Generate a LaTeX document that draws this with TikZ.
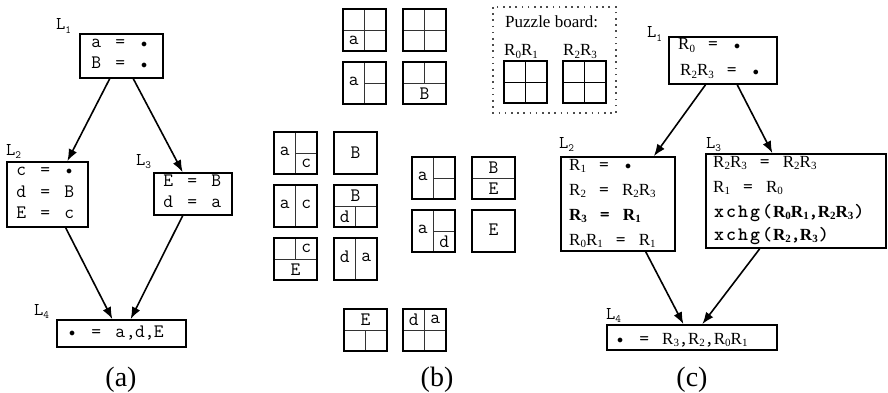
\documentclass[tikz,border=0pt]{standalone}
\usepackage{fontspec}
\newfontfamily\tms{Liberation Serif}
\usetikzlibrary{arrows.meta,calc}
\newlength\cpitch
\setlength\cpitch{12pt}
\newcommand\ccloop[1]{\ifx#1\relax\else\makebox[\cpitch]{#1}\expandafter\ccloop\fi}
\newcommand\cc[1]{\ccloop#1\relax}
\newcommand\bul{\raisebox{0.05ex}{\scalebox{0.7}{$\bullet$}}}
\newcommand\cn{\makebox[9pt]{,}}
\newcommand\cf{\fontsize{19}{22}\selectfont\ttfamily}
\newcommand\cfb{\fontsize{19}{22}\selectfont\ttfamily\fontseries{b}\selectfont}
\newcommand\Rr[1]{{\tms\fontsize{17}{20}\selectfont R\raisebox{-0.3ex}{\fontsize{11}{12}\selectfont #1}}}
\newcommand\Rb[1]{{\tms\bfseries\fontsize{17}{20}\selectfont R\raisebox{-0.3ex}{\fontsize{11}{12}\selectfont #1}}}
\newcommand\Lb[1]{{\fontsize{18}{20}\selectfont\ttfamily L\raisebox{-0.4ex}{\fontsize{11}{12}\selectfont #1}}}
\begin{document}
\begin{tikzpicture}[x=1pt,y=-1pt,
  box/.style={draw, line width=1.7pt, rectangle, inner sep=0pt},
  txt/.style={anchor=base west, inner sep=0pt},
  arr/.style={line width=1.6pt, -{Latex[length=12pt,width=9pt]}},
  capt/.style={anchor=base, inner sep=0pt, font=\tms\fontsize{28}{30}\selectfont},
  tb/.style={line width=1.3pt},
  ti/.style={line width=0.8pt, black!80},
  tl/.style={inner sep=0pt, font=\cf},
  board/.style={line width=1.6pt},
  dotbox/.style={line width=1.4pt, black!70, dash pattern=on 1.6pt off 4.6pt}
]
\useasboundingbox (0,0) rectangle (888,393);

% ---------------- (a) ----------------
\node[box, minimum width=83pt, minimum height=44pt] (a1) at (121.5,56) {};
\node[box, minimum width=81pt, minimum height=65pt] (a2) at (47.5,194.5) {};
\node[box, minimum width=78pt, minimum height=42pt] (a3) at (193,194) {};
\node[box, minimum width=129pt, minimum height=27pt] (a4) at (121.5,333.5) {};

\node[txt] (a1l) at (56,30) {\Lb{1}};
\node[txt] (a2l) at (6,155) {\Lb{2}};
\node[txt] (a3l) at (136,165) {\Lb{3}};
\node[txt] (a4l) at (34,315) {\Lb{4}};

\node[txt] (a1t1) at (90,48) {\cf\cc{a~=~\bul}};
\node[txt] (a1t2) at (90,69) {\cf\cc{B~=~\bul}};
\node[txt] (a2t1) at (15,175) {\cf\cc{c~=~\bul}};
\node[txt] (a2t2) at (15,197) {\cf\cc{d~=~B}};
\node[txt] (a2t3) at (15,218) {\cf\cc{E~=~c}};
\node[txt] (a3t1) at (162,186) {\cf\cc{E~=~B}};
\node[txt] (a3t2) at (162,207) {\cf\cc{d~=~a}};
\node[txt] (a4t1) at (66,337) {\cf\cc{\bul~=~a}\cn d\cn E};

\draw[arr] ($(a1.south west)!0.36!(a1.south east)$) -- ($(a2.north west)!0.74!(a2.north east)$);
\draw[arr] ($(a1.south west)!0.64!(a1.south east)$) -- ($(a3.north west)!0.37!(a3.north east)$);
\draw[arr] ($(a2.south west)!0.72!(a2.south east)$) -- ($(a4.north west)!0.43!(a4.north east)$);
\draw[arr] ($(a3.south west)!0.37!(a3.south east)$) -- ($(a4.north west)!0.57!(a4.north east)$);

\node[capt] (capa) at (121,386) {(a)};

% ---------------- (b) ----------------
% T1
\begin{scope}[shift={(343,9)}]
\draw[ti] (21.5,0)--(21.5,42) (0,21)--(43,21);
\draw[tb] (0,0) rectangle (43,42);
\node[tl] (t1a) at (10.75,31.5) {a};
\end{scope}
% T2
\begin{scope}[shift={(403,9)}]
\draw[ti] (21.5,0)--(21.5,42) (0,21)--(43,21);
\draw[tb] (0,0) rectangle (43,42);
\end{scope}
% T3
\begin{scope}[shift={(343,62)}]
\draw[ti] (21.5,0)--(21.5,42) (21.5,21)--(43,21);
\draw[tb] (0,0) rectangle (43,42);
\node[tl] (t3a) at (10.75,19) {a};
\end{scope}
% T4
\begin{scope}[shift={(403,62)}]
\draw[ti] (0,21)--(43,21) (21.5,0)--(21.5,21);
\draw[tb] (0,0) rectangle (43,42);
\node[tl] (t4b) at (21.5,31.5) {B};
\end{scope}
% T5
\begin{scope}[shift={(274,132)}]
\draw[ti] (21.5,0)--(21.5,42) (21.5,21)--(43,21);
\draw[tb] (0,0) rectangle (43,42);
\node[tl] (t5a) at (10.75,19) {a};
\node[tl] (t5c) at (32.25,31.5) {c};
\end{scope}
% T6
\begin{scope}[shift={(334,132)}]
\draw[tb] (0,0) rectangle (43,42);
\node[tl] (t6b) at (21.5,21) {B};
\end{scope}
% T7
\begin{scope}[shift={(274,185)}]
\draw[ti] (21.5,0)--(21.5,42);
\draw[tb] (0,0) rectangle (43,42);
\node[tl] (t7a) at (10.75,19) {a};
\node[tl] (t7c) at (32.25,19) {c};
\end{scope}
% T8
\begin{scope}[shift={(334,185)}]
\draw[ti] (0,21)--(43,21) (21.5,21)--(21.5,42);
\draw[tb] (0,0) rectangle (43,42);
\node[tl] (t8b) at (21.5,10.5) {B};
\node[tl] (t8d) at (10.75,31.5) {d};
\end{scope}
% T9
\begin{scope}[shift={(274,238)}]
\draw[ti] (0,21)--(43,21) (21.5,0)--(21.5,21);
\draw[tb] (0,0) rectangle (43,42);
\node[tl] (t9c) at (32.25,10.5) {c};
\node[tl] (t9e) at (21.5,31.5) {E};
\end{scope}
% T10
\begin{scope}[shift={(334,238)}]
\draw[ti] (21.5,0)--(21.5,42);
\draw[tb] (0,0) rectangle (43,42);
\node[tl] (t10d) at (10.75,19) {d};
\node[tl] (t10a) at (32.25,19) {a};
\end{scope}
% T11
\begin{scope}[shift={(412,157)}]
\draw[ti] (21.5,0)--(21.5,42) (21.5,21)--(43,21);
\draw[tb] (0,0) rectangle (43,42);
\node[tl] (t11a) at (10.75,19) {a};
\end{scope}
% T12
\begin{scope}[shift={(472,157)}]
\draw[ti] (0,21)--(43,21);
\draw[tb] (0,0) rectangle (43,42);
\node[tl] (t12b) at (21.5,10.5) {B};
\node[tl] (t12e) at (21.5,31.5) {E};
\end{scope}
% T13
\begin{scope}[shift={(412,210)}]
\draw[ti] (21.5,0)--(21.5,42) (21.5,21)--(43,21);
\draw[tb] (0,0) rectangle (43,42);
\node[tl] (t13a) at (10.75,19) {a};
\node[tl] (t13d) at (32.25,31.5) {d};
\end{scope}
% T14
\begin{scope}[shift={(472,210)}]
\draw[tb] (0,0) rectangle (43,42);
\node[tl] (t14e) at (21.5,20) {E};
\end{scope}
% T15
\begin{scope}[shift={(344,309)}]
\draw[ti] (0,21)--(43,21) (21.5,21)--(21.5,42);
\draw[tb] (0,0) rectangle (43,42);
\node[tl] (t15e) at (21.5,10.5) {E};
\end{scope}
% T16
\begin{scope}[shift={(403,309)}]
\draw[ti] (21.5,0)--(21.5,42) (0,21)--(43,21);
\draw[tb] (0,0) rectangle (43,42);
\node[tl] (t16d) at (10.75,10.5) {d};
\node[tl] (t16a) at (32.25,10.5) {a};
\end{scope}

% puzzle board
\draw[dotbox] (493,7) rectangle (616,113);
\node[txt] (pb) at (505,28) {\tms\fontsize{17}{20}\selectfont Puzzle board:};
\node[txt] (pb1) at (504,56) {\Rr{0}\Rr{1}};
\node[txt] (pb2) at (563,56) {\Rr{2}\Rr{3}};
\begin{scope}[shift={(504,61)}]
\draw[ti, black] (21.5,0)--(21.5,42) (0,21)--(43,21);
\draw[board] (0,0) rectangle (43,42);
\end{scope}
\begin{scope}[shift={(563,61)}]
\draw[ti, black] (21.5,0)--(21.5,42) (0,21)--(43,21);
\draw[board] (0,0) rectangle (43,42);
\end{scope}

\node[capt] (capb) at (437,386) {(b)};

% ---------------- (c) ----------------
\node[box, minimum width=108pt, minimum height=47pt] (c1) at (723,60.5) {};
\node[box, minimum width=114pt, minimum height=94pt] (c2) at (618,204) {};
\node[box, minimum width=180pt, minimum height=94pt] (c3) at (796,201) {};
\node[box, minimum width=170pt, minimum height=25pt] (c4) at (692,337.5) {};

\node[txt] (c1l) at (647,38) {\Lb{1}};
\node[txt] (c2l) at (559,148) {\Lb{2}};
\node[txt] (c3l) at (706,148) {\Lb{3}};
\node[txt] (c4l) at (606,319) {\Lb{4}};

\node[txt] (c1t1) at (678,50) {\Rr{0}\cf\cc{~=~\bul}};
\node[txt] (c1t2) at (680,76) {\Rr{2}\Rr{3}\cf\cc{~=~\bul}};

\node[txt] (c2t1) at (569,170) {\Rr{1}\cf\cc{~=~\bul}};
\node[txt] (c2t2) at (569,195) {\Rr{2}\cf\cc{~=~}\Rr{2}\Rr{3}};
\node[txt] (c2t3) at (569,220) {\Rb{3}\cfb\cc{~=~}\Rb{1}};
\node[txt] (c2t4) at (569,245) {\Rr{0}\Rr{1}\cf\cc{~=~}\Rr{1}};

\node[txt] (c3t1) at (713,167) {\Rr{2}\Rr{3}\cf\cc{~=~}\Rr{2}\Rr{3}};
\node[txt] (c3t2) at (713,192) {\Rr{1}\cf\cc{~=~}\Rr{0}};
\node[txt] (c3t3) at (713,217) {\cfb\cc{xchg(}\Rb{0}\Rb{1}\cn\Rb{2}\Rb{3}\cc{)}};
\node[txt] (c3t4) at (713,240) {\cfb\cc{xchg(}\Rb{2}\cn\Rb{3}\cc{)}};

\node[txt] (c4t1) at (614,344) {\cf\cc{\bul~=~}\Rr{3}\cn\Rr{2}\cn\Rr{0}\Rr{1}};

\draw[arr] ($(c1.south west)!0.34!(c1.south east)$) -- ($(c2.north west)!0.81!(c2.north east)$);
\draw[arr] ($(c1.south west)!0.63!(c1.south east)$) -- ($(c3.north west)!0.37!(c3.north east)$);
\draw[arr] ($(c2.south west)!0.74!(c2.south east)$) -- ($(c4.north west)!0.45!(c4.north east)$);
\draw[arr] ($(c3.south west)!0.30!(c3.south east)$) -- ($(c4.north west)!0.56!(c4.north east)$);

\node[capt] (capc) at (692,386) {(c)};
\end{tikzpicture}
\end{document}
